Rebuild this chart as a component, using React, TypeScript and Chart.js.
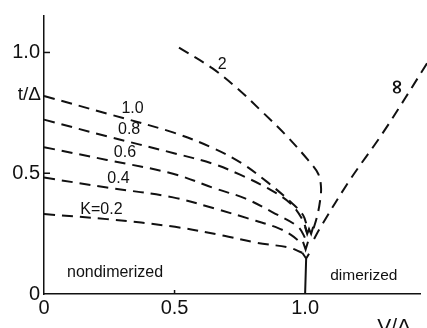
import React, { useEffect, useRef } from 'react';
import { Chart, registerables } from 'chart.js';

Chart.register(...registerables);

// Axis ticks
const xTickValues = [0, 0.5, 1.0];
const xTickLabels = ['0', '0.5', '1.0'];
const yTickValues = [0, 0.5, 1.0];
const yTickLabels = ['0', '0.5', '1.0'];

// Phase boundary curves t/Δ vs V/Δ for different K
const k10X = [0, 0.241, 0.494, 0.648, 0.755, 0.858, 0.95, 0.992, 1.008];
const k10Y = [0.82, 0.747, 0.669, 0.604, 0.543, 0.461, 0.376, 0.327, 0.278];

const k08X = [0, 0.241, 0.494, 0.648, 0.751, 0.858, 0.943, 0.989, 1.008];
const k08Y = [0.722, 0.653, 0.584, 0.539, 0.494, 0.437, 0.376, 0.31, 0.253];

const k06X = [0, 0.241, 0.494, 0.655, 0.77, 0.874, 0.973, 1.004];
const k06Y = [0.608, 0.555, 0.498, 0.437, 0.396, 0.339, 0.278, 0.224];

const k04X = [0, 0.241, 0.494, 0.663, 0.778, 0.897, 0.946, 0.989];
const k04Y = [0.482, 0.441, 0.4, 0.351, 0.314, 0.273, 0.245, 0.208];

const k02X = [0, 0.241, 0.502, 0.69, 0.816, 0.939, 0.989];
const k02Y = [0.331, 0.31, 0.278, 0.241, 0.212, 0.192, 0.171];

const k2X = [0.517, 0.644, 0.743, 0.835, 0.927, 1.011, 1.05, 1.061, 1.057, 1.046, 1.027];
const k2Y = [1.02, 0.935, 0.849, 0.755, 0.657, 0.555, 0.498, 0.441, 0.384, 0.322, 0.253];

const kInfX = [1.467, 1.299, 1.172, 1.057, 1.023];
const kInfY = [0.955, 0.669, 0.473, 0.273, 0.204];

// Solid boundary (dimerized transition) and small arrow marks
const solidX = [0.989, 1.004, 1.015, 1.004, 1.0];
const solidY = [0.171, 0.147, 0.167, 0.147, 0];
const arrowX = [0.992, 1.002, 1.011];
const arrowY = [0.216, 0.184, 0.216];
const wX = [1.0, 1.008, 1.015, 1.023, 1.031];
const wY = [0.278, 0.249, 0.269, 0.249, 0.278];

// Curve labels (data coordinates)
const curveLabels = ['1.0', '0.8', '0.6', '0.4', 'K=0.2', '2'];
const curveLabelX = [0.339, 0.326, 0.31, 0.285, 0.22, 0.682];
const curveLabelY = [0.767, 0.68, 0.584, 0.478, 0.351, 0.951];

const FONT = '"Liberation Sans", Arial, Helvetica, sans-serif';
const INK = '#111';

const pts = (xs: number[], ys: number[]) => xs.map((x, i) => ({ x, y: ys[i] }));

const overlayPlugin = {
  id: 'overlay',
  afterDraw(chart: any) {
    const ctx = chart.ctx as CanvasRenderingContext2D;
    const xs = chart.scales.x;
    const ys = chart.scales.y;
    const ax = xs.getPixelForValue(0);
    const ay = ys.getPixelForValue(0);
    ctx.save();
    ctx.strokeStyle = INK;
    ctx.lineWidth = 1.5;
    // inward tick marks
    [0.5, 1.0].forEach((v) => {
      const py = ys.getPixelForValue(v);
      ctx.beginPath();
      ctx.moveTo(ax, py);
      ctx.lineTo(ax + 6, py);
      ctx.stroke();
    });
    {
      const px = xs.getPixelForValue(0.5);
      ctx.beginPath();
      ctx.moveTo(px, ay);
      ctx.lineTo(px, ay - 4);
      ctx.stroke();
    }
    ctx.fillStyle = INK;
    // curve labels
    ctx.font = `16px ${FONT}`;
    ctx.textAlign = 'center';
    ctx.textBaseline = 'middle';
    curveLabels.forEach((t, i) => {
      ctx.fillText(t, xs.getPixelForValue(curveLabelX[i]), ys.getPixelForValue(curveLabelY[i]));
    });
    // infinity label rotated
    ctx.save();
    ctx.translate(xs.getPixelForValue(1.349), ys.getPixelForValue(0.857));
    ctx.rotate(Math.PI / 2);
    ctx.font = `bold 20px "DejaVu Sans", sans-serif`;
    ctx.fillText('∞', 0, 0);
    ctx.restore();
    // region labels
    ctx.textAlign = 'left';
    ctx.textBaseline = 'alphabetic';
    ctx.font = `16px ${FONT}`;
    ctx.fillText('nondimerized', xs.getPixelForValue(0.088), ys.getPixelForValue(0.069));
    ctx.font = `15.5px ${FONT}`;
    ctx.fillText('dimerized', xs.getPixelForValue(1.096), ys.getPixelForValue(0.06));
    // axis titles
    ctx.textAlign = 'right';
    ctx.font = `19px ${FONT}`;
    ctx.fillText('t/Δ', ax - 3, ys.getPixelForValue(0.804));
    ctx.textAlign = 'left';
    ctx.font = `21px ${FONT}`;
    ctx.fillText('V/Δ', xs.getPixelForValue(1.276), ay + 39);
    ctx.restore();
  },
};

const dashed = (data: { x: number; y: number }[]) => ({
  data,
  borderColor: INK,
  borderWidth: 2,
  borderDash: [11, 7],
  tension: 0.35,
  pointRadius: 0,
  fill: false,
  clip: false as any,
});

const solid = (data: { x: number; y: number }[]) => ({
  data,
  borderColor: INK,
  borderWidth: 2,
  tension: 0,
  pointRadius: 0,
  fill: false,
  clip: false as any,
});

export default function App() {
  const ref = useRef<HTMLCanvasElement | null>(null);
  useEffect(() => {
    if (!ref.current) return;
    const chart = new Chart(ref.current, {
      type: 'line',
      data: {
        datasets: [
          dashed(pts(k10X, k10Y)),
          dashed(pts(k08X, k08Y)),
          dashed(pts(k06X, k06Y)),
          dashed(pts(k04X, k04Y)),
          dashed(pts(k02X, k02Y)),
          dashed(pts(k2X, k2Y)),
          dashed(pts(kInfX, kInfY)),
          solid(pts(solidX, solidY)),
          solid(pts(arrowX, arrowY)),
          solid(pts(wX, wY)),
        ] as any,
      },
      options: {
        animation: false,
        responsive: false,
        devicePixelRatio: 1,
        layout: { padding: { top: 12, right: 7, left: 0, bottom: 0 } },
        plugins: { legend: { display: false }, tooltip: { enabled: false } },
        elements: { point: { radius: 0 } },
        scales: {
          x: {
            type: 'linear',
            min: 0,
            max: 1.44,
            grid: { display: false, drawTicks: false },
            border: { display: true, color: INK, width: 1.5 },
            ticks: {
              color: INK,
              font: { size: 20, family: FONT },
              padding: 2,
              maxRotation: 0,
              callback: (_v: any, i: number) => xTickLabels[i],
            },
            afterBuildTicks: (s: any) => {
              s.ticks = xTickValues.map((value) => ({ value }));
            },
            afterFit: (s: any) => {
              s.height = 34;
            },
          },
          y: {
            type: 'linear',
            min: 0,
            max: 1.151,
            grid: { display: false, drawTicks: false },
            border: { display: true, color: INK, width: 1.5 },
            ticks: {
              color: INK,
              font: { size: 20, family: FONT },
              padding: 4,
              callback: (_v: any, i: number) => yTickLabels[i],
            },
            afterBuildTicks: (s: any) => {
              s.ticks = yTickValues.map((value) => ({ value }));
            },
            afterFit: (s: any) => {
              s.width = 44;
            },
          },
        },
      } as any,
      plugins: [overlayPlugin],
    });
    return () => chart.destroy();
  }, []);
  return (
    <div style={{ position: 'absolute', left: 0, top: 0, width: 427, height: 328, background: '#fff' }}>
      <canvas ref={ref} width={427} height={328} style={{ display: 'block' }} />
    </div>
  );
}
